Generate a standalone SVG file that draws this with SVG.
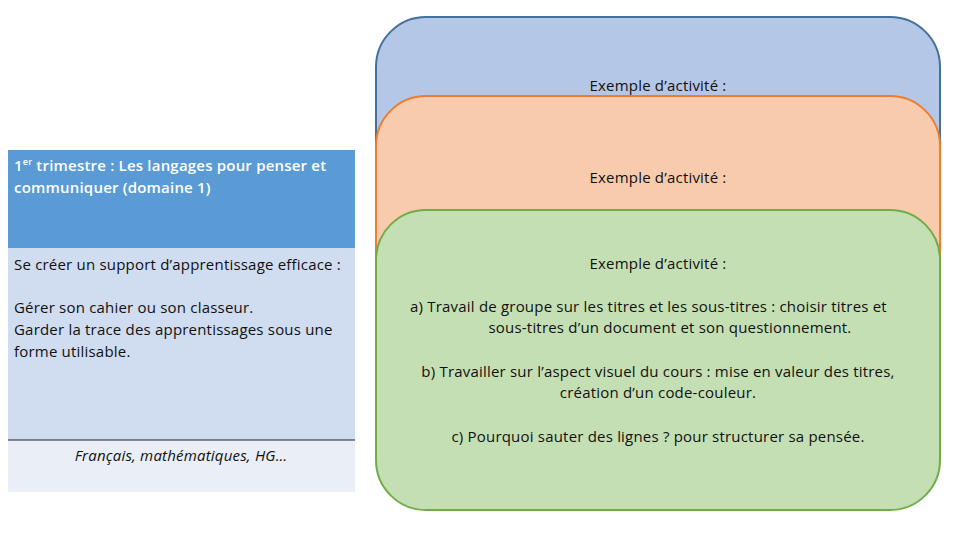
<svg xmlns="http://www.w3.org/2000/svg" width="960" height="540" viewBox="0 0 960 540">
<style>
text{font-family:"Open Sans","Liberation Sans",sans-serif;font-size:15px;fill:#111;letter-spacing:0.2px}
.c{text-anchor:middle}
.h{fill:#fff;font-weight:600}
</style>
<rect width="960" height="540" fill="#fff"/>
<g id="table">
<rect x="8" y="150" width="347" height="98" fill="#5B9BD5"/>
<rect x="8" y="248" width="347" height="192" fill="#D0DCEF"/>
<rect x="8" y="440" width="347" height="52" fill="#E9EEF7"/>
<line x1="8" y1="440" x2="355" y2="440" stroke="#222" stroke-width="1"/>
<text x="14" y="171" class="h">1<tspan font-size="9" dy="-6">er</tspan><tspan dy="6"> trimestre : Les langages pour penser et</tspan></text>
<text x="14" y="193" class="h">communiquer (domaine 1)</text>
<text x="14" y="270">Se créer un support d’apprentissage efficace :</text>
<text x="14" y="313">Gérer son cahier ou son classeur.</text>
<text x="14" y="335">Garder la trace des apprentissages sous une</text>
<text x="14" y="357">forme utilisable.</text>
<text x="181" y="461" class="c" font-style="italic">Français, mathématiques, HG…</text>
</g>
<g id="card1">
<rect x="376" y="17" width="564" height="400" rx="50" fill="#B4C7E7" stroke="#41719C" stroke-width="2"/>
<text x="658" y="91" class="c">Exemple d’activité :</text>
</g>
<g id="card2">
<rect x="376" y="96" width="564" height="380" rx="50" fill="#F8CBAD" stroke="#ED7D31" stroke-width="2"/>
<text x="658" y="183" class="c">Exemple d’activité :</text>
</g>
<g id="card3">
<rect x="376" y="210" width="564" height="300" rx="50" fill="#C5DFB4" stroke="#70AD47" stroke-width="2"/>
<text x="658" y="269" class="c">Exemple d’activité :</text>
<text x="410" y="312">a)   Travail de groupe sur les titres et les sous-titres : choisir titres et</text>
<text x="670" y="333" class="c">sous-titres d’un document et son questionnement.</text>
<text x="658" y="377" class="c">b) Travailler sur l’aspect visuel du cours : mise en valeur des titres,</text>
<text x="658" y="398" class="c">création d’un code-couleur.</text>
<text x="658" y="442" class="c">c) Pourquoi sauter des lignes ? pour structurer sa pensée.</text>
</g>
<g id="connectors"/>
</svg>
